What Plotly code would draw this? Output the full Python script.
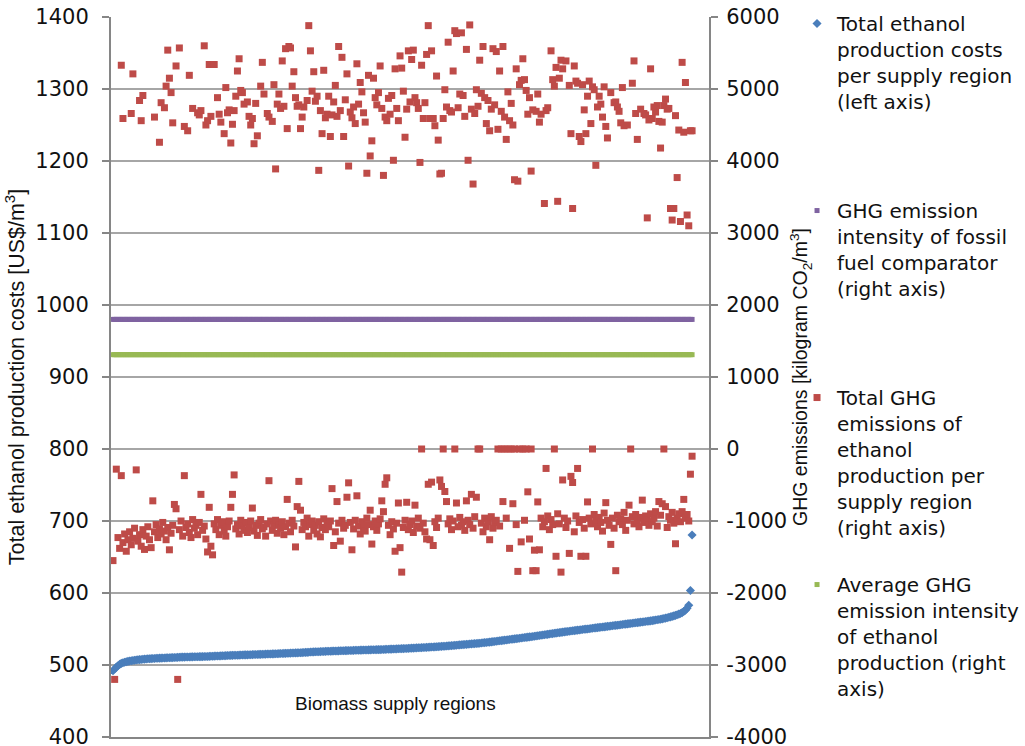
import plotly.graph_objects as go

# ---------------- data ----------------
N_REGIONS = 350
REGIONS = list(range(1, N_REGIONS + 1))

# Total ethanol production costs per supply region (US$/m3, left axis), sorted
COST = [
    492.0, 494.5, 497.0, 499.0, 500.8, 502.2, 503.2, 503.9, 504.5, 505.0,
    505.5, 505.9, 506.3, 506.7, 507.0, 507.3, 507.5, 507.7, 508.0, 508.2,
    508.4, 508.6, 508.7, 508.9, 509.0, 509.1, 509.3, 509.4, 509.5, 509.6,
    509.7, 509.8, 509.9, 510.0, 510.1, 510.2, 510.3, 510.4, 510.5, 510.6,
    510.8, 510.9, 511.0, 511.0, 511.1, 511.2, 511.2, 511.3, 511.3, 511.4,
    511.5, 511.5, 511.6, 511.6, 511.7, 511.8, 511.8, 511.9, 512.0, 512.1,
    512.2, 512.3, 512.4, 512.5, 512.6, 512.7, 512.8, 512.9, 513.0, 513.1,
    513.2, 513.3, 513.4, 513.5, 513.6, 513.6, 513.7, 513.8, 513.9, 514.0,
    514.0, 514.1, 514.2, 514.3, 514.4, 514.5, 514.6, 514.6, 514.7, 514.8,
    514.9, 515.0, 515.1, 515.2, 515.3, 515.3, 515.4, 515.5, 515.6, 515.7,
    515.8, 515.9, 516.0, 516.1, 516.2, 516.3, 516.4, 516.5, 516.6, 516.7,
    516.8, 516.9, 517.0, 517.1, 517.2, 517.3, 517.5, 517.6, 517.8, 518.0,
    518.1, 518.2, 518.3, 518.4, 518.5, 518.6, 518.7, 518.8, 518.9, 519.0,
    519.1, 519.2, 519.3, 519.4, 519.5, 519.5, 519.6, 519.7, 519.8, 519.8,
    519.9, 520.0, 520.1, 520.2, 520.2, 520.3, 520.4, 520.5, 520.5, 520.6,
    520.7, 520.8, 520.8, 520.9, 521.0, 521.0, 521.1, 521.2, 521.2, 521.3,
    521.4, 521.4, 521.5, 521.6, 521.7, 521.8, 521.9, 522.0, 522.1, 522.2,
    522.3, 522.4, 522.5, 522.6, 522.7, 522.8, 522.9, 523.0, 523.1, 523.3,
    523.4, 523.5, 523.6, 523.8, 523.9, 524.0, 524.1, 524.3, 524.4, 524.5,
    524.6, 524.8, 524.9, 525.0, 525.2, 525.3, 525.5, 525.6, 525.8, 526.0,
    526.1, 526.3, 526.5, 526.7, 526.9, 527.1, 527.3, 527.5, 527.7, 527.9,
    528.1, 528.3, 528.5, 528.7, 528.9, 529.1, 529.3, 529.5, 529.7, 529.9,
    530.1, 530.3, 530.6, 530.8, 531.1, 531.3, 531.6, 531.8, 532.1, 532.4,
    532.7, 533.0, 533.3, 533.6, 533.9, 534.2, 534.5, 534.8, 535.1, 535.4,
    535.7, 536.0, 536.3, 536.6, 536.9, 537.2, 537.5, 537.8, 538.1, 538.4,
    538.7, 539.0, 539.3, 539.6, 540.0, 540.3, 540.6, 541.0, 541.3, 541.6,
    542.0, 542.3, 542.6, 543.0, 543.3, 543.6, 544.0, 544.3, 544.7, 545.0,
    545.3, 545.6, 546.0, 546.3, 546.6, 546.9, 547.2, 547.5, 547.8, 548.1,
    548.4, 548.7, 549.0, 549.3, 549.6, 549.8, 550.1, 550.4, 550.7, 551.0,
    551.3, 551.6, 551.9, 552.2, 552.5, 552.8, 553.0, 553.3, 553.6, 553.9,
    554.2, 554.5, 554.8, 555.0, 555.3, 555.6, 555.9, 556.2, 556.5, 556.8,
    557.1, 557.4, 557.7, 558.0, 558.3, 558.6, 558.9, 559.2, 559.5, 559.8,
    560.1, 560.4, 560.7, 561.0, 561.3, 561.7, 562.0, 562.4, 562.8, 563.2,
    563.6, 564.1, 564.6, 565.1, 565.7, 566.3, 566.9, 567.5, 568.2, 568.9,
    569.7, 570.6, 571.6, 572.8, 574.3, 576.2, 578.8, 583.0, 603.5, 680.5,
]

# Total GHG emissions of ethanol production per supply region (kg CO2/m3, right axis)
GHG_LOW = [
    -1550, -3200, -280, -1230, -1380, -370, -1300, -1180, -1420, -1260,
    -1150, -1330, -1240, -1100, -290, -1280, -1190, -1350, -1120, -1395,
    -1210, -1080, -1260, -1370, -720, -1150, -1050, -1230, -1110, -1180,
    -1020, -1140, -1260, -1090, -1400, -1170, -1060, -770, -830, -3200,
    -1120, -1000, -1210, -370, -1090, -1040, -1160, -1230, -980, -1100,
    -1060, -1190, -1020, -630, -1130, -1070, -1250, -1430, -810, -1350,
    -1470, -1040, -1120, -980, -1190, -1060, -1010, -1140, -1210, -1080,
    -1000, -810, -630, -360, -1110, -1050, -1180, -990, -1070, -1130,
    -1020, -1160, -1090, -1000, -820, -1140, -1060, -1200, -1030, -980,
    -1110, -1080, -1210, -1040, -440, -1000, -1130, -1060, -990, -1170,
    -1050, -1100, -1010, -1190, -1080, -700, -1030, -1150, -990, -1070,
    -1360, -800, -450, -850, -1120, -1020, -1080, -960, -1210, -1050,
    -1000, -1130, -1060, -1180, -1010, -1220, -1090, -970, -1120, -1040,
    -1080, -1000, -550, -1340, -1150, -730, -1030, -1280, -990, -1100,
    -1060, -670, -470, -1020, -1400, -1110, -990, -650, -1070, -1180,
    -1010, -1090, -1140, -960, -1050, -850, -1320, -1080, -1000, -1130,
    -1040, -970, -720, -870, -490, -400, -1060, -1190, -1010, -1110,
    -1420, -1030, -750, -1370, -1710, -1090, -990, -740, -1120, -1050,
    -1000, -1160, -780, -1070, -960, -1100, 0, -1030, -1150, -1250,
    -490, -1260, -460, -1340, -1010, -1090, -960, -430, -520, 0,
    -590, -730, -1040, -970, -1120, -1000, 0, -750, -1080, -950,
    -1060, -1010, -1130, -720, -990, -1050, -630, -1100, -940, -670,
    0, 0, -1030, -1150, -960, -1080, -1010, -1260, -940, -1100,
    -1020, -990, 0, -1070, 0, -730, 0, -960, 0, -1380,
    0, -760, 0, -1050, -1700, 0, -1290, 0, -990, 0,
    -595, -1250, 0, -1690, -1405, -1690, -735, -1400, -960, -1080,
    -1010, -270, -930, -1120, -980, -1050, 0, -1490, -900, -1040,
    -1710, -430, -960, -1090, -1000, -1450, -380, -465, -1150, -930,
    -270, -1020, -1490, -980, -1100, -1490, -735, -960, -1040, 0,
    -910, -1000, -1080, -950, -1020, -1140, -890, -745, -990, -1060,
    -1325, -960, -1100, -1690, -920, -1010, -970, -1050, -880, -1130,
    -990, -780, 0, -940, -1040, -910, -1000, -1080, -950, -710,
    -1020, -930, -980, -1060, -900, -1010, -960, -870, -1070, -730,
    -920, -760, 0, -800, -1090, -940, -990, -880, -1030, -1316,
    -960, -900, -1010, -870, -700, -960, -910, -1000, -350, -100,
]

GHG_HIGH = [
    None, None, None, None, None, 5330, 4590, None, None, None,
    None, 4660, 5210, None, None, None, 4840, 4560, 4910, None,
    None, None, None, None, None, 4610, None, None, 4260, 4810,
    None, 4740, 5040, 5540, 5150, 4950, 4530, None, 5320, None,
    5570, None, None, 4480, None, 4420, 5190, None, 4730, None,
    None, 4670, 4640, 4700, None, 5600, 4500, 4560, 5340, 4620,
    None, 5340, None, 4880, 4650, 4540, None, 4380, 5020, 4670,
    4710, 4250, 4510, 4700, 4900, 5250, 5420, 4980, 4950, 4790,
    None, 4820, 4620, 4500, 4590, 4240, 4800, 4350, None, 5040,
    5370, 4930, None, 4660, 4610, None, 4550, 5060, 3890, 4790,
    4930, 4730, 5390, 4760, 5560, 4450, 5590, 5570, 5040, 5240,
    4880, 4760, 4780, 4450, 4610, 4750, None, 4840, 5880, 5530,
    4970, 5240, 4830, 4900, 3870, 4700, 4380, 5260, 4600, 4650,
    4900, 4340, 4640, 4820, 5050, 4620, 5590, 4700, 5440, 4340,
    4850, 5210, 3930, 4680, 4600, 4750, 4520, 5350, 4790, 5090,
    4960, 4670, 4540, 3830, 5190, 4070, 4280, 5150, 4880, 4780,
    4950, 5320, 4730, 3800, 4610, 4560, 4870, 4650, 4910, 4010,
    5280, 4730, 4560, 5460, 5290, 4970, 4330, 4720, 5530, 4820,
    5410, 5540, 4880, 4810, 4730, 3980, 5330, 4590, 4810, 5480,
    5880, 4590, 5530, 4590, 4490, 5180, 4290, 3820, 3830, 4590,
    4990, 4750, 5650, 4700, 4680, 5250, 5810, 5770, 4740, 4930,
    5780, 4910, 4620, 5550, 4010, 5890, 4720, 3680, 4660, 4990,
    4760, 5400, 4940, 5590, 4880, 4520, 4840, 4420, 4720, 5560,
    4780, 5520, 4440, 5250, 4690, 5590, 4610, 4300, 4960, 4560,
    4800, 4500, 3740, 5280, 3720, 5060, 5120, 5420, 5130, 4980,
    4650, 4880, 3860, 4710, None, 4690, 4930, 4540, 4650, None,
    3410, 4700, 4740, None, 5530, 5130, 5040, 5300, 3440, 5150,
    5400, 5280, None, 5390, None, 5050, 4380, 3340, 5320, 5110,
    5080, 4340, 4270, 5060, 4710, 4380, 4900, 5110, 4520, 5030,
    4990, 3940, 4750, 4900, 4790, 4610, 5030, 4480, 4320, None,
    4950, None, 4810, 4820, 4750, 4690, 4530, 5020, 4490, None,
    4500, None, None, 5080, 5390, 4660, 4300, None, 4720, None,
    4660, 4640, 3210, 4570, 5280, 4590, 4750, 4680, 4770, 4550,
    4180, 4540, 4770, 4860, 4720, 4730, 3340, 3180, 3340, 4630,
    3770, 4430, 3160, 5370, 4400, 5090, 3250, 3100, 4420, 4420,
]

FOSSIL_COMPARATOR = 1800    # kg CO2/m3, right axis
AVERAGE_ETHANOL_GHG = 1310  # kg CO2/m3, right axis

LEFT_TICKS = list(range(400, 1401, 100))
RIGHT_TICKS = list(range(-4000, 6001, 1000))
LEFT_TICK_TEXT = [str(v) for v in LEFT_TICKS]
RIGHT_TICK_TEXT = [str(v) for v in RIGHT_TICKS]  # plain hyphen-minus as in the original

NAMES = [
    "Total ethanol<br>production costs<br>per supply region<br>(left axis)<br> <br> ",
    "GHG emission<br>intensity of fossil<br>fuel comparator<br>(right axis)<br> <br> ",
    "Total GHG<br>emissions of<br>ethanol<br>production per<br>supply region<br>(right axis)",
    "Average GHG<br>emission intensity<br>of ethanol<br>production (right<br>axis)",
]

# ---------------- styles ----------------
BLUE = "#4A7EBB"
RED = "#BE4B48"
PURPLE = "#7F63A1"
GREEN = "#98B954"
AXIS = "#868686"
GRID = "#A6A6A6"
TEXT = "#111111"
TICK_FONT = dict(family="DejaVu Sans, Verdana, sans-serif", size=21, color=TEXT)
NARROW = "Liberation Sans Narrow, Liberation Sans, Arial, sans-serif"

fig = go.Figure()

fig.add_trace(go.Scatter(
    x=REGIONS, y=GHG_LOW, yaxis="y2", mode="markers", name=NAMES[2],
    marker=dict(symbol="square", size=7, color=RED),
    legendgroup="g3", legendrank=3,
))
fig.add_trace(go.Scatter(
    x=REGIONS, y=GHG_HIGH, yaxis="y2", mode="markers", name=NAMES[2],
    marker=dict(symbol="square", size=7, color=RED),
    legendgroup="g3", showlegend=False,
))
fig.add_trace(go.Scatter(
    x=REGIONS, y=[FOSSIL_COMPARATOR] * len(REGIONS), yaxis="y2", mode="markers",
    name=NAMES[1], marker=dict(symbol="square", size=5, color=PURPLE),
    legendgroup="g2", legendrank=2,
))
fig.add_trace(go.Scatter(
    x=REGIONS, y=[AVERAGE_ETHANOL_GHG] * len(REGIONS), yaxis="y2", mode="markers",
    name=NAMES[3], marker=dict(symbol="square", size=5, color=GREEN),
    legendgroup="g4", legendrank=4,
))
fig.add_trace(go.Scatter(
    x=REGIONS, y=COST, mode="markers", name=NAMES[0],
    marker=dict(symbol="diamond", size=7, color=BLUE),
    legendgroup="g1", legendrank=1,
))

fig.update_layout(
    width=1025, height=746,
    margin=dict(l=111, r=316, t=17, b=9, pad=0, autoexpand=False),
    paper_bgcolor="white", plot_bgcolor="white",
    showlegend=True,
    legend=dict(
        x=1.1472, xanchor="left", y=1.018, yanchor="top", maxheight=740,
        font=dict(family="DejaVu Sans, Verdana, sans-serif", size=20, color=TEXT),
        valign="top", tracegroupgap=28, bgcolor="rgba(0,0,0,0)",
    ),
    xaxis=dict(
        range=[-0.2, 360.2], showticklabels=False, showgrid=False, zeroline=False,
        showline=True, linecolor=AXIS, linewidth=2, ticks="",
    ),
    yaxis=dict(
        range=[400, 1400], tickvals=LEFT_TICKS, ticktext=LEFT_TICK_TEXT,
        showgrid=True, gridcolor=GRID, gridwidth=1.5,
        zeroline=False, showline=True, linecolor=AXIS, linewidth=2,
        ticks="outside", ticklen=7, tickwidth=1.5, tickcolor=AXIS,
        tickfont=TICK_FONT, ticklabelstandoff=9, ticklabeloverflow="allow",
        title=dict(text="Total ethanol production costs [US$/m<sup>3</sup>]",
                   font=dict(family=NARROW, size=21.5, color=TEXT), standoff=5),
    ),
    yaxis2=dict(
        range=[-4000, 6000], tickvals=RIGHT_TICKS, ticktext=RIGHT_TICK_TEXT,
        overlaying="y", side="right",
        showgrid=False, zeroline=False, showline=True, linecolor=AXIS, linewidth=2,
        ticks="outside", ticklen=7, tickwidth=1.5, tickcolor=AXIS,
        tickfont=TICK_FONT, ticklabelstandoff=4, ticklabeloverflow="allow",
        title=dict(text="GHG emissions [kilogram CO<sub>2</sub>/m<sup>3</sup>]",
                   font=dict(family=NARROW, size=19.5, color=TEXT), standoff=2),
    ),
    annotations=[dict(
        text="Biomass supply regions", xref="paper", yref="paper", x=0.475, y=0.046,
        xanchor="center", yanchor="middle", showarrow=False,
        font=dict(family=NARROW, size=19, color=TEXT),
    )],
)

fig.write_html("out.html", config={"displayModeBar": False},
               post_script="document.body.style.margin='0';")
